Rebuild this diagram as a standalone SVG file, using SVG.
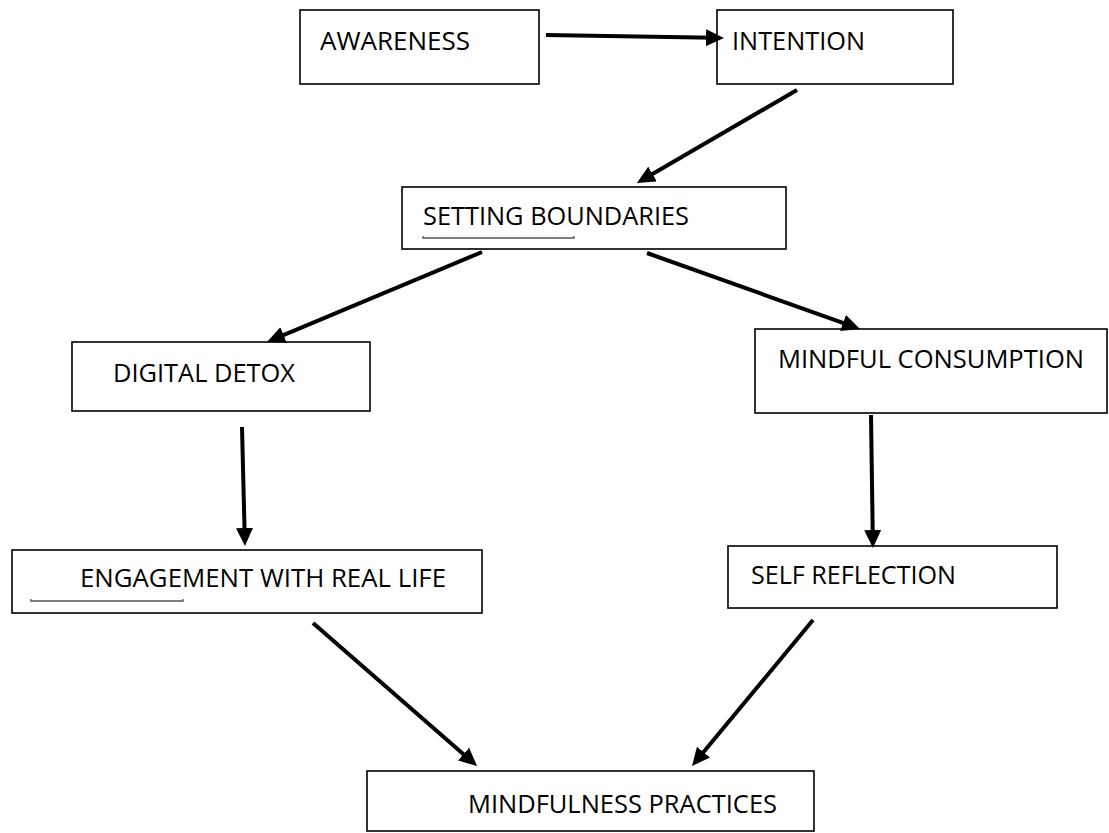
<svg xmlns="http://www.w3.org/2000/svg" width="1109" height="833" viewBox="0 0 1109 833">
<style>
.box{fill:#fff;stroke:#000;stroke-width:1.6}
.lbl{font-family:"Open Sans","Liberation Sans",sans-serif;font-size:26px;fill:#000}
.arr{stroke:#000;stroke-width:4;fill:none;marker-end:url(#ah)}
.ul{stroke:#555;stroke-width:1.3;fill:none}
</style>
<defs>
<marker id="ah" markerUnits="userSpaceOnUse" markerWidth="18" markerHeight="17" refX="8" refY="8.5" orient="auto">
<path d="M0,0 L18,8.5 L0,17 z" fill="#000"/>
</marker>
</defs>
<rect width="1109" height="833" fill="#fff"/>
<g id="awareness"><rect class="box" x="300" y="10" width="239" height="74"/><text class="lbl" x="320" y="50" textLength="150" lengthAdjust="spacingAndGlyphs">AWARENESS</text></g>
<g id="intention"><rect class="box" x="717" y="10" width="236" height="74"/><text class="lbl" x="732" y="50" textLength="133" lengthAdjust="spacingAndGlyphs">INTENTION</text></g>
<g id="setting-boundaries"><rect class="box" x="402" y="187" width="384" height="62"/><text class="lbl" x="423" y="225" textLength="266" lengthAdjust="spacingAndGlyphs">SETTING BOUNDARIES</text><path class="ul" d="M423,236 V238 H574 V236"/></g>
<g id="digital-detox"><rect class="box" x="72" y="342" width="298" height="69"/><text class="lbl" x="113" y="382" textLength="182" lengthAdjust="spacingAndGlyphs">DIGITAL DETOX</text></g>
<g id="mindful-consumption"><rect class="box" x="755" y="329" width="352" height="84"/><text class="lbl" x="778" y="368" textLength="306" lengthAdjust="spacingAndGlyphs">MINDFUL CONSUMPTION</text></g>
<g id="engagement"><rect class="box" x="12" y="550" width="470" height="63"/><text class="lbl" x="80" y="587" textLength="366" lengthAdjust="spacingAndGlyphs">ENGAGEMENT WITH REAL LIFE</text><path class="ul" d="M31,599 V601 H183 V599"/></g>
<g id="self-reflection"><rect class="box" x="728" y="546" width="329" height="62"/><text class="lbl" x="751" y="584" textLength="205" lengthAdjust="spacingAndGlyphs">SELF REFLECTION</text></g>
<g id="mindfulness-practices"><rect class="box" x="367" y="771" width="447" height="60"/><text class="lbl" x="468" y="813" textLength="309" lengthAdjust="spacingAndGlyphs">MINDFULNESS PRACTICES</text></g>
<g id="connectors">
<line class="arr" x1="546" y1="35" x2="714" y2="37.8"/>
<line class="arr" x1="797" y1="90" x2="645.6" y2="178"/>
<line class="arr" x1="482" y1="252" x2="276.2" y2="338.1"/>
<line class="arr" x1="647" y1="253" x2="850.6" y2="325.6"/>
<line class="arr" x1="242" y1="427" x2="244.7" y2="536"/>
<line class="arr" x1="871" y1="415" x2="872.8" y2="538"/>
<line class="arr" x1="313" y1="623" x2="469.5" y2="759.4"/>
<line class="arr" x1="813" y1="620" x2="698.4" y2="758.3"/>
</g>
</svg>
